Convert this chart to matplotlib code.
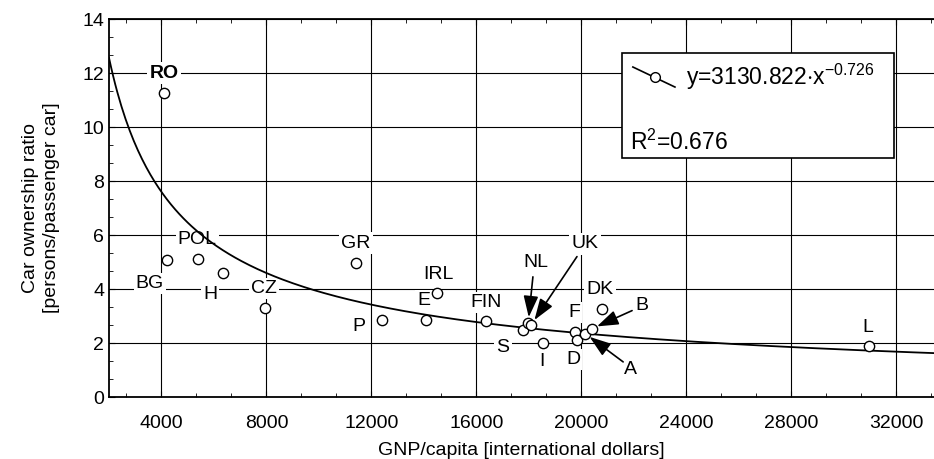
import numpy as np
import matplotlib
matplotlib.use("Agg")
import matplotlib.pyplot as plt
from matplotlib.ticker import MultipleLocator, AutoMinorLocator
from matplotlib.lines import Line2D
from matplotlib.patches import Rectangle

plt.rcParams['font.family'] = ['Liberation Sans', 'DejaVu Sans']
plt.rcParams['mathtext.fontset'] = 'custom'
plt.rcParams['mathtext.rm'] = 'Liberation Sans'
plt.rcParams['mathtext.it'] = 'Liberation Sans'

# data
countries = ['RO', 'BG', 'POL', 'H', 'CZ', 'GR', 'P', 'E', 'IRL', 'FIN',
             'S', 'NL', 'UK', 'I', 'F', 'D', 'A', 'B', 'DK', 'L']
gnp = [4100, 4200, 5390, 6350, 7950, 11420, 12410, 14090, 14500, 16370,
       17780, 17980, 18100, 18550, 19770, 19840, 20150, 20410, 20800, 30980]
ratio = [11.25, 5.07, 5.12, 4.6, 3.3, 4.98, 2.84, 2.84, 3.85, 2.8,
         2.5, 2.75, 2.68, 2.0, 2.4, 2.1, 2.35, 2.53, 3.27, 1.9]

# fitted power curve y = a * x^b
fit_a = 3130.822
fit_b = -0.726
fit_r2 = 0.676

# label placement (data coords)
label_pos = {
    'RO': (4100, 12.0), 'BG': (3560, 4.2), 'POL': (5360, 5.85), 'H': (5850, 3.8),
    'CZ': (7910, 4.03), 'GR': (11420, 5.7), 'P': (11530, 2.6), 'E': (14010, 3.56),
    'IRL': (14540, 4.55), 'FIN': (16370, 3.5), 'S': (17020, 1.85), 'I': (18500, 1.3),
    'D': (19690, 1.38), 'F': (19730, 3.13), 'DK': (20720, 4.0), 'B': (22320, 3.38),
    'A': (21860, 1.02), 'L': (30940, 2.58), 'NL': (18280, 4.98), 'UK': (20150, 5.67),
}
arrow_tail = {'NL': (18160, 4.45), 'UK': (19840, 5.2), 'B': (21940, 3.2), 'A': (21600, 1.3)}

fig = plt.figure(figsize=(9.34, 4.59), dpi=100)
ax = fig.add_axes([109 / 934, 1 - 397 / 459, 825 / 934, 378 / 459])

ax.set_xlim(2000, 33450)
ax.set_ylim(0, 14)
ax.xaxis.set_major_locator(MultipleLocator(4000))
ax.xaxis.set_minor_locator(AutoMinorLocator(3))
ax.yaxis.set_major_locator(MultipleLocator(2))
ax.yaxis.set_minor_locator(AutoMinorLocator(3))
ax.set_xticks([4000, 8000, 12000, 16000, 20000, 24000, 28000, 32000])
ax.tick_params(which='both', direction='in', top=True, right=False, labelsize=14,
               color='black')
ax.tick_params(which='major', length=4)
ax.tick_params(which='minor', length=3)
ax.tick_params(axis='x', pad=13)
ax.spines['right'].set_visible(False)
for s in ['left', 'bottom', 'top']:
    ax.spines[s].set_linewidth(1.3)

ax.grid(True, which='major', color='black', linewidth=0.8, zorder=0)
ax.set_axisbelow(True)

ax.set_xlabel('GNP/capita [international dollars]', fontsize=14, labelpad=7)
ax.set_ylabel('Car ownership ratio\n[persons/passenger car]', fontsize=14,
              labelpad=16, linespacing=1.3)

xs = np.linspace(2000, 33450, 400)
ax.plot(xs, fit_a * xs ** fit_b, color='black', lw=1.3, zorder=3)

ax.scatter(gnp, ratio, s=55, facecolor='white', edgecolor='black',
           linewidth=1.0, zorder=4)

for c in countries:
    lx, ly = label_pos[c]
    ax.text(lx, ly, c, fontsize=14, ha='center', va='center',
            fontweight='bold' if c == 'RO' else 'normal',
            bbox=dict(fc='white', ec='none', pad=1.5), zorder=2)

for c, (tx, ty) in arrow_tail.items():
    i = countries.index(c)
    ax.annotate('', xy=(gnp[i], ratio[i]), xytext=(tx, ty),
                arrowprops=dict(arrowstyle='-|>,head_length=1.3,head_width=0.45',
                                color='black', lw=1.2, shrinkA=0, shrinkB=4),
                zorder=5)

# regression box
bx0, by0, bx1, by1 = 0.622, 0.632, 0.951, 0.910
ax.add_patch(Rectangle((bx0, by0), bx1 - bx0, by1 - by0, transform=ax.transAxes,
                       fc='white', ec='black', lw=1.2, zorder=6))
ax.add_line(Line2D([0.635, 0.686], [0.873, 0.820], transform=ax.transAxes,
                   color='black', lw=1.2, zorder=7))
ax.plot([0.662], [0.847], 'o', transform=ax.transAxes, ms=7, mfc='white',
        mec='black', mew=1.0, zorder=8)
ax.text(0.700, 0.847, r'y=3130.822$\cdot$x$^{-0.726}$', transform=ax.transAxes,
        fontsize=16.5, ha='left', va='center', zorder=8)
ax.text(0.631, 0.675, 'R$^2$=%.3f' % fit_r2, transform=ax.transAxes,
        fontsize=16.5, ha='left', va='center', zorder=8)

fig.savefig('out.png', dpi=100)
